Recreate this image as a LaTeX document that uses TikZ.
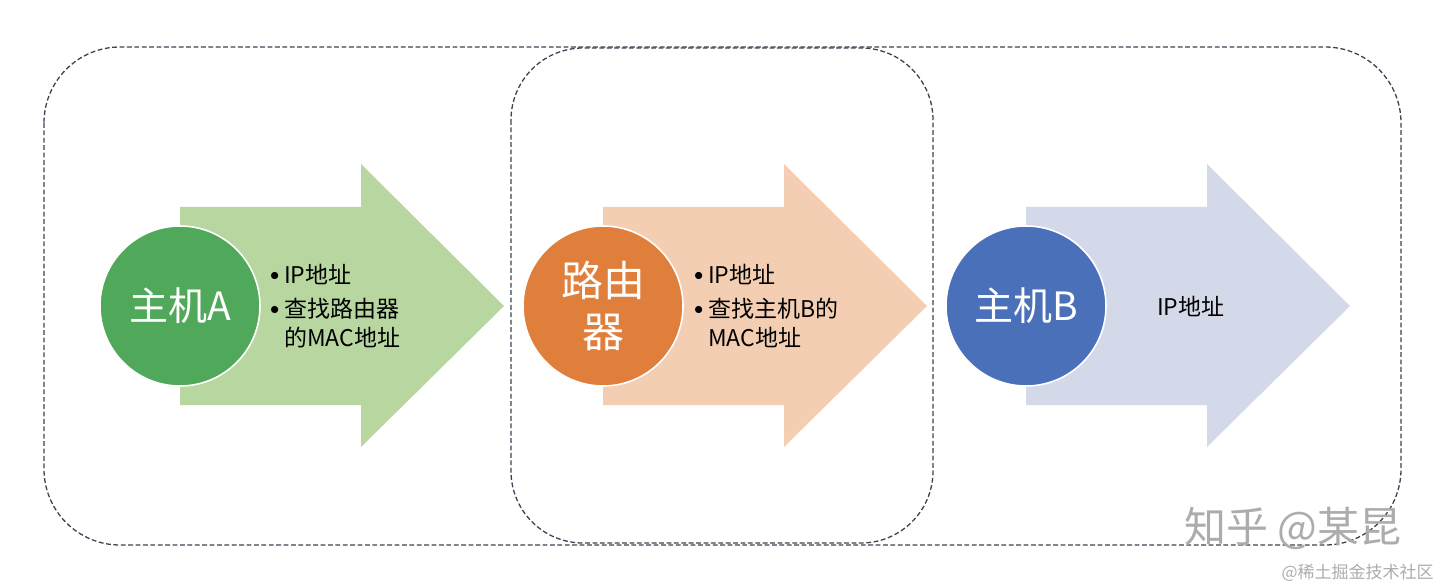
\documentclass[tikz,border=0pt]{standalone}
\usepackage{fontspec}
\setmainfont{Noto Sans CJK SC}
\usepackage{xcolor}
\usepackage{tikz}
\usetikzlibrary{positioning}

\definecolor{greenD}{HTML}{50A85A}
\definecolor{greenL}{HTML}{B8D6A0}
\definecolor{orangeD}{HTML}{E07E3C}
\definecolor{orangeL}{HTML}{F4CEB2}
\definecolor{blueD}{HTML}{4A70B9}
\definecolor{blueL}{HTML}{D4D9EA}
\definecolor{frameline}{HTML}{3B4252}

\newcommand{\bul}{\makebox[7pt][l]{\raisebox{1.3pt}{\fontsize{9}{9}\selectfont$\bullet$}}}

\begin{document}
\begin{tikzpicture}[x=0.5pt, y=-0.5pt,
    stage/.style={circle, draw=white, line width=0.8pt, minimum size=80pt, inner sep=0pt,
        text=white, align=center, font=\fontsize{19.5}{25.5}\selectfont},
    notes/.style={inner sep=0pt, align=left, font=\fontsize{11.5}{14.5}\selectfont},
    frame/.style={draw=frameline, line width=0.65pt, dash pattern=on 2.4pt off 1.3pt, rounded corners=38pt},
    stamp/.style={inner sep=0pt, text=gray!65}]
    \useasboundingbox (0,0) rectangle (1440,588);
    \draw[frame] (44,47) rectangle (1401,545);
    \draw[frame, rounded corners=36pt] (511,48) rectangle (933,543);
    \foreach \x/\c in {180/greenL,603/orangeL,1026/blueL} {
        \fill[\c] (\x,207) -- ++(181,0) -- ++(0,-43) -- ++(143,142) -- ++(-143,141) -- ++(0,-42) -- ++(-181,0) -- cycle;
    }
    \node[stage, fill=greenD] (hostA) at (180,306) {主机A};
    \node[stage, fill=orangeD, font=\fontsize{21}{25.5}\selectfont] (router) at (603,306) {路由\\器};
    \node[stage, fill=blueD] (hostB) at (1026,306) {主机B};
    \node[notes, right=4.5pt of hostA] (notesA) {\bul IP地址\\[2.5pt]\bul 查找路由器\\\hspace*{7pt}的MAC地址};
    \node[notes, right=5pt of router] (notesR) {\bul IP地址\\[2.5pt]\bul 查找主机B的\\\hspace*{7pt}MAC地址};
    \node[notes, right=25pt of hostB] (notesB) {IP地址};
    \node[stamp, anchor=east, font=\fontsize{21}{21}\selectfont] (zhihu) at (1402,528) {知乎 @某昆};
    \node[stamp, anchor=east, font=\fontsize{8.5}{9}\selectfont] (juejin) at (1434,573) {@稀土掘金技术社区};
\end{tikzpicture}
\end{document}
